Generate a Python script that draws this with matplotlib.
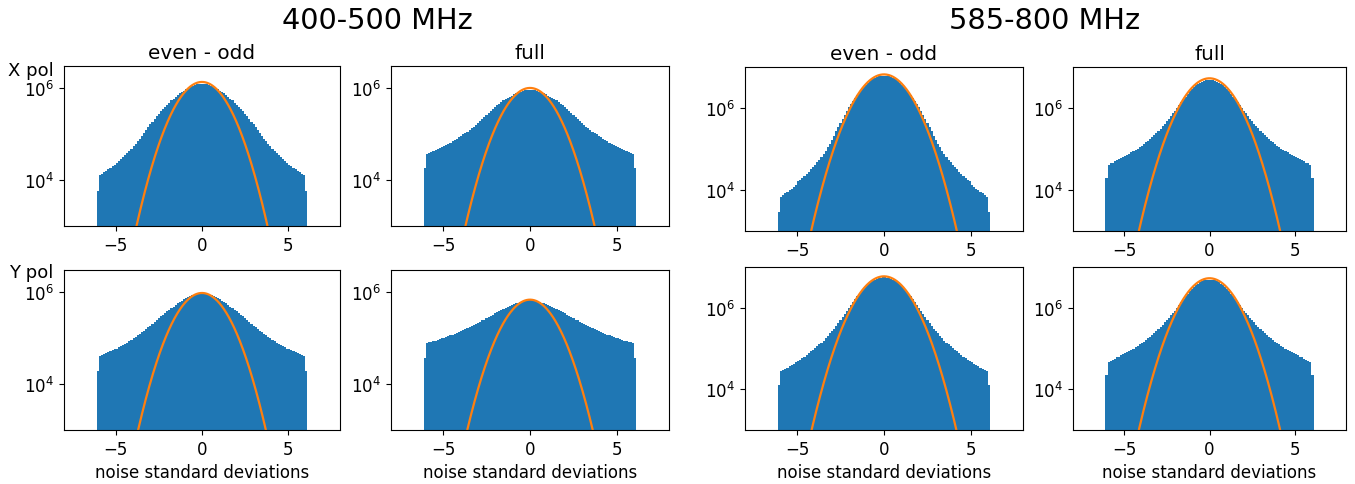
import numpy as np
import matplotlib
matplotlib.use("Agg")
import matplotlib.pyplot as plt
from matplotlib.ticker import FixedLocator, NullLocator

plt.rcParams['font.size'] = 12

# ---- data (log10 of histogram counts, positive half, mirrored; bin width ~0.122 over [-6.1, 6.1]) ----
bin_lo, bin_hi, n_half = -6.1, 6.1, 50

log_400_x_evenodd = [6.09, 6.09, 6.08, 6.06, 6.04, 6.02, 6.00, 5.97, 5.94, 5.91,
                     5.88, 5.85, 5.81, 5.77, 5.73, 5.68, 5.64, 5.59, 5.54, 5.49,
                     5.44, 5.39, 5.33, 5.27, 5.21, 5.15, 5.09, 5.02, 4.96, 4.90,
                     4.85, 4.79, 4.73, 4.68, 4.63, 4.58, 4.54, 4.49, 4.45, 4.41,
                     4.37, 4.33, 4.30, 4.27, 4.23, 4.20, 4.17, 4.14, 4.11, 3.76]
log_400_x_full = [5.96, 5.96, 5.95, 5.94, 5.92, 5.90, 5.88, 5.86, 5.83, 5.81,
                  5.78, 5.76, 5.73, 5.69, 5.66, 5.62, 5.58, 5.54, 5.49, 5.45,
                  5.41, 5.37, 5.33, 5.28, 5.24, 5.20, 5.16, 5.12, 5.08, 5.05,
                  5.02, 4.99, 4.96, 4.93, 4.90, 4.87, 4.84, 4.81, 4.79, 4.76,
                  4.74, 4.72, 4.69, 4.67, 4.65, 4.63, 4.61, 4.59, 4.57, 4.25]
log_400_y_evenodd = [5.98, 5.98, 5.97, 5.96, 5.94, 5.92, 5.90, 5.87, 5.84, 5.81,
                     5.78, 5.75, 5.72, 5.68, 5.65, 5.61, 5.58, 5.54, 5.50, 5.47,
                     5.43, 5.39, 5.35, 5.31, 5.27, 5.23, 5.20, 5.16, 5.12, 5.09,
                     5.06, 5.02, 4.99, 4.96, 4.93, 4.90, 4.87, 4.85, 4.82, 4.80,
                     4.77, 4.75, 4.73, 4.71, 4.69, 4.67, 4.65, 4.63, 4.61, 4.28]
log_400_y_full = [5.82, 5.82, 5.81, 5.80, 5.79, 5.77, 5.76, 5.74, 5.72, 5.70,
                  5.68, 5.66, 5.63, 5.61, 5.59, 5.56, 5.54, 5.51, 5.48, 5.46,
                  5.43, 5.40, 5.38, 5.35, 5.33, 5.30, 5.28, 5.26, 5.23, 5.21,
                  5.19, 5.17, 5.15, 5.13, 5.11, 5.09, 5.07, 5.06, 5.04, 5.02,
                  5.00, 4.99, 4.97, 4.96, 4.94, 4.93, 4.92, 4.91, 4.90, 4.57]
log_585_x_evenodd = [6.79, 6.78, 6.77, 6.75, 6.73, 6.70, 6.66, 6.62, 6.57, 6.52,
                     6.46, 6.39, 6.32, 6.25, 6.18, 6.10, 6.02, 5.93, 5.84, 5.74,
                     5.64, 5.54, 5.43, 5.32, 5.22, 5.13, 5.04, 4.95, 4.87, 4.80,
                     4.74, 4.68, 4.62, 4.56, 4.51, 4.45, 4.40, 4.35, 4.30, 4.25,
                     4.21, 4.12, 4.07, 4.03, 3.99, 3.96, 3.92, 3.88, 3.84, 3.46]
log_585_x_full = [6.68, 6.68, 6.66, 6.64, 6.62, 6.59, 6.55, 6.51, 6.46, 6.41,
                  6.35, 6.28, 6.21, 6.14, 6.07, 6.00, 5.93, 5.87, 5.80, 5.74,
                  5.68, 5.62, 5.56, 5.50, 5.44, 5.39, 5.34, 5.29, 5.24, 5.20,
                  5.16, 5.12, 5.08, 5.04, 5.01, 4.98, 4.95, 4.92, 4.89, 4.86,
                  4.83, 4.80, 4.77, 4.75, 4.72, 4.70, 4.67, 4.65, 4.62, 4.29]
log_585_y_evenodd = [6.75, 6.74, 6.73, 6.71, 6.69, 6.66, 6.62, 6.58, 6.53, 6.48,
                     6.42, 6.35, 6.28, 6.21, 6.14, 6.07, 5.99, 5.92, 5.85, 5.77,
                     5.70, 5.63, 5.56, 5.49, 5.43, 5.37, 5.31, 5.25, 5.19, 5.14,
                     5.10, 5.05, 5.01, 4.97, 4.93, 4.89, 4.84, 4.80, 4.77, 4.73,
                     4.69, 4.66, 4.62, 4.59, 4.56, 4.53, 4.50, 4.47, 4.44, 4.10]
log_585_y_full = [6.69, 6.68, 6.67, 6.65, 6.62, 6.59, 6.55, 6.51, 6.46, 6.40,
                  6.34, 6.28, 6.21, 6.14, 6.07, 6.00, 5.93, 5.87, 5.81, 5.75,
                  5.70, 5.64, 5.58, 5.52, 5.47, 5.42, 5.38, 5.33, 5.29, 5.25,
                  5.21, 5.17, 5.13, 5.10, 5.06, 5.03, 5.00, 4.97, 4.94, 4.91,
                  4.88, 4.86, 4.83, 4.80, 4.78, 4.75, 4.73, 4.70, 4.67, 4.36]

# Gaussian fit amplitudes (peak counts), sigma in noise standard deviations
fit_amp = {'400_x_evenodd': 1.35e6, '400_x_full': 1.0e6,
           '400_y_evenodd': 9.5e5, '400_y_full': 6.8e5,
           '585_x_evenodd': 6.6e6, '585_x_full': 5.3e6,
           '585_y_evenodd': 5.9e6, '585_y_full': 5.3e6}
fit_sigma = 1.0

band_titles = ['400-500 MHz', '585-800 MHz']
col_titles = ['even - odd', 'full']
row_labels = ['X pol', 'Y pol']
xlabel = 'noise standard deviations'
ytick_vals = [1e4, 1e6]

# ---- layout (pixel boxes: left, right, top, bottom) ----
W, H = 1355, 485
fig = plt.figure(figsize=(W / 100, H / 100), dpi=100)

def add_ax(l, r, t, b):
    return fig.add_axes([l / W, 1 - b / H, (r - l) / W, (b - t) / H])

panels = [
    ('400_x_evenodd', log_400_x_evenodd, (64, 340, 67, 227), 3.0e6),
    ('400_x_full', log_400_x_full, (391, 669, 67, 227), 3.0e6),
    ('400_y_evenodd', log_400_y_evenodd, (64, 340, 271, 431), 3.0e6),
    ('400_y_full', log_400_y_full, (391, 669, 271, 431), 3.0e6),
    ('585_x_evenodd', log_585_x_evenodd, (745, 1023, 68, 232), 1.0e7),
    ('585_x_full', log_585_x_full, (1073, 1346, 68, 232), 1.0e7),
    ('585_y_evenodd', log_585_y_evenodd, (745, 1023, 268, 431), 1.0e7),
    ('585_y_full', log_585_y_full, (1073, 1346, 268, 431), 1.0e7),
]

edges = np.linspace(bin_lo, bin_hi, 2 * n_half + 1)
centers = 0.5 * (edges[:-1] + edges[1:])
xs = np.linspace(bin_lo, bin_hi, 600)

axes = {}
for key, half, box, ytop in panels:
    ax = add_ax(*box)
    counts = 10 ** np.concatenate([np.array(half)[::-1], np.array(half)])
    ax.hist(centers, bins=edges, weights=counts, color='C0', log=True)
    ax.plot(xs, fit_amp[key] * np.exp(-xs ** 2 / (2 * fit_sigma ** 2)), color='C1', lw=1.6)
    ax.set_yscale('log')
    ax.set_xlim(-8, 8)
    ax.set_ylim(1e3, ytop)
    ax.yaxis.set_major_locator(FixedLocator(ytick_vals))
    ax.yaxis.set_minor_locator(NullLocator())
    axes[key] = ax

# column titles
for band in ['400', '585']:
    axes[band + '_x_evenodd'].set_title(col_titles[0], fontsize=14.4)
    axes[band + '_x_full'].set_title(col_titles[1], fontsize=14.4)
    axes[band + '_y_evenodd'].set_xlabel(xlabel)
    axes[band + '_y_full'].set_xlabel(xlabel)

fig.text(377 / W, 1 - 21 / H, band_titles[0], ha='center', va='center', fontsize=20.7)
fig.text(1045 / W, 1 - 21 / H, band_titles[1], ha='center', va='center', fontsize=20.7)

fig.text(31 / W, 1 - 71 / H, row_labels[0], ha='center', va='center', fontsize=13)
fig.text(31 / W, 1 - 273 / H, row_labels[1], ha='center', va='center', fontsize=13)

fig.savefig('out.png', dpi=100)
